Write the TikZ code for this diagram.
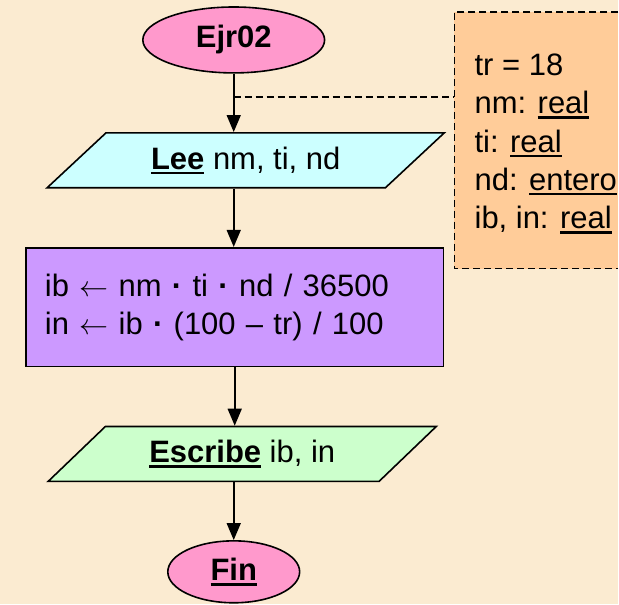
\documentclass[tikz,border=0pt]{standalone}
\usepackage{fontspec}
\setmainfont{Liberation Sans}
\usetikzlibrary{shapes.geometric,arrows.meta}
\definecolor{bgc}{HTML}{FBEBD1}
\definecolor{pinkc}{HTML}{FF99CC}
\definecolor{cyanc}{HTML}{CCFFFF}
\definecolor{purplec}{HTML}{CC99FF}
\definecolor{greenc}{HTML}{CCFFCC}
\definecolor{orangec}{HTML}{FFCC99}
\newcommand\ulx[1]{\setbox0\hbox{#1}\rlap{\rule[-5pt]{\wd0}{2.5pt}}\box0\relax}
\newcommand\larr{\resizebox{29pt}{!}{$\leftarrow$}}
\newcommand\mdot{\textbf{·}}
\tikzset{
  term/.style={ellipse, draw, line width=1.6pt, fill=pinkc, inner sep=0pt},
  para/.style={trapezium, trapezium stretches=true, draw, line width=1.6pt, inner sep=0pt},
  proc/.style={rectangle, draw, line width=1.6pt, fill=purplec, text width=380pt, inner xsep=19pt, minimum height=119pt, align=left},
  decltext/.style={inner sep=0pt, align=left},
  arr/.style={line width=1.6pt, -{Triangle[length=17pt,width=14pt]}},
  dline/.style={line width=1.5pt, dash pattern=on 7pt off 4pt}
}
\begin{document}
\begin{tikzpicture}[x=1pt,y=-1pt,font=\fontsize{31}{38.3}\selectfont]
\fill[bgc] (0,0) rectangle (619,605);
\fill[orangec] (455,12) rectangle (619,269);
\draw[dline] (619,12) -- (455,12) -- (455,269) -- (619,269);
\node[decltext, anchor=west] (decl) at (475,144) {tr = 18\\nm: \ulx{real}\\ti: \ulx{real}\\nd: \ulx{entero}\\ib, in: \ulx{real}};
\node[term, minimum width=182pt, minimum height=66pt] (start) at (234,40) {\textbf{Ejr02}};
\node[para, fill=cyanc, trapezium left angle=34.5, trapezium right angle=145.5, minimum width=398pt, minimum height=55pt] (lee) at (246,160.5) {\ulx{\textbf{Lee}} nm, ti, nd};
\node[proc] (calc) at (235,307.5) {ib \larr{} nm \mdot{} ti \mdot{} nd / 36500\\in \larr{} ib \mdot{} (100 – tr) / 100};
\node[para, fill=greenc, trapezium left angle=35.2, trapezium right angle=144.8, minimum width=389pt, minimum height=55pt] (esc) at (242.5,454.5) {\ulx{\textbf{Escribe}} ib, in};
\node[term, minimum width=132pt, minimum height=62pt] (fin) at (234,572.5) {\ulx{\textbf{Fin}}};
\coordinate (j) at (234,97);
\coordinate (dl) at (455,97);
\draw[arr] (start.south) -- (start.south |- lee.north);
\draw[dline] (j) -- (dl);
\draw[arr] (start.south |- lee.south) -- (start.south |- calc.north);
\draw[arr] (calc.south) -- (calc.south |- esc.north);
\draw[arr] (fin.north |- esc.south) -- (fin.north);
\end{tikzpicture}
\end{document}
